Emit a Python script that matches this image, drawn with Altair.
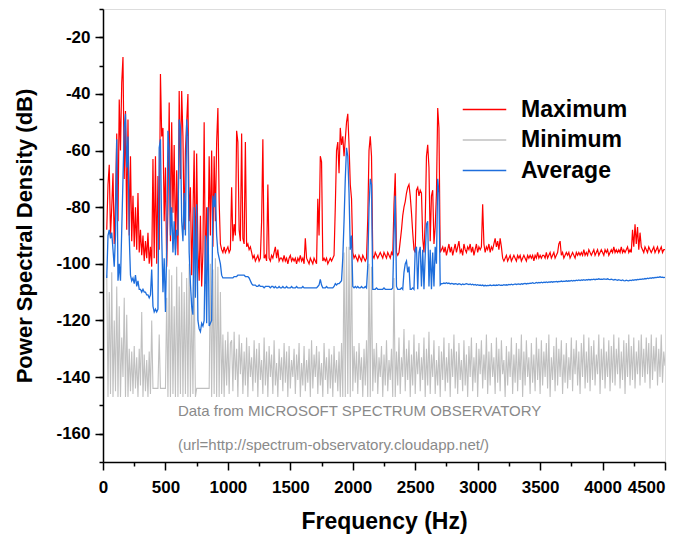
import altair as alt
import pandas as pd

# Frequency grid (Hz), 10 Hz sampling from 30 Hz to 4500 Hz
FREQ_HZ = list(range(30, 4501, 10))

SERIES = ["Maximum", "Minimum", "Average"]
COLORS = ["#ff0000", "#c0c0c0", "#1e6edc"]

# Power spectral density (dB), one row per 100 Hz (30..120, 130..220, ...)
MAX_DB = [
    -88, -72, -65, -90, -80, -68, -93, -78, -54, -85,
    -42, -60, -36, -27, -70, -46, -88, -49, -90, -62,
    -92, -76, -94, -80, -95, -75, -96, -88, -97, -90,
    -99, -92, -98, -89, -100, -94, -101, -63, -98, -62,
    -100, -69, -95, -33, -55, -52, -85, -66, -101, -80,
    -43, -92, -50, -82, -58, -95, -67, -97, -39, -70,
    -39, -55, -88, -60, -50, -40, -85, -73, -104, -83,
    -60, -105, -61, -95, -106, -83, -108, -96, -50, -107,
    -80, -96, -62, -90, -60, -94, -62, -85, -57, -45,
    -78, -93, -95, -96, -94, -96, -95, -94, -96, -95,
    -73, -92, -86, -90, -53, -57, -88, -92, -54, -91,
    -93, -57, -94, -93, -95, -94, -96, -98, -97, -99,
    -98, -97, -99, -98, -85, -56, -98, -97, -99, -72,
    -98, -99, -97, -98, -96, -94, -98, -95, -99, -98,
    -98, -99, -97, -99, -98, -100, -98, -97, -99, -98,
    -99, -98, -100, -98, -99, -97, -99, -98, -100, -91,
    -98, -99, -100, -98, -99, -100, -98, -99, -100, -77,
    -90, -62, -64, -99, -98, -99, -98, -100, -99, -98,
    -99, -98, -97, -80, -60, -57, -68, -52, -58, -55,
    -62, -56, -50, -47, -58, -72, -77, -96, -98, -97,
    -98, -99, -97, -98, -99, -97, -98, -99, -98, -84,
    -60, -55, -62, -97, -98, -96, -97, -98, -97, -96,
    -97, -98, -96, -97, -98, -96, -97, -98, -96, -97,
    -79, -68, -96, -97, -96, -92, -88, -83, -80, -78,
    -75, -73, -72, -76, -82, -89, -95, -96, -74, -73,
    -76, -74, -75, -91, -96, -85, -62, -58, -66, -92,
    -76, -74, -93, -87, -75, -45, -52, -96, -95, -94,
    -96, -94, -97, -95, -93, -96, -94, -97, -95, -93,
    -96, -94, -92, -96, -95, -97, -93, -95, -96, -94,
    -95, -93, -96, -94, -97, -95, -93, -96, -94, -95,
    -94, -79, -93, -96, -94, -95, -93, -96, -94, -95,
    -93, -91, -94, -92, -95, -91, -94, -98, -99, -98,
    -97, -99, -98, -97, -99, -98, -97, -98, -99, -97,
    -98, -97, -99, -98, -97, -98, -99, -97, -98, -97,
    -98, -97, -99, -97, -98, -96, -98, -97, -98, -97,
    -97, -98, -96, -98, -97, -96, -98, -97, -96, -98,
    -97, -96, -93, -92, -97, -96, -98, -97, -96, -97,
    -96, -98, -97, -96, -97, -98, -96, -97, -96, -97,
    -96, -97, -95, -97, -96, -97, -95, -96, -97, -96,
    -95, -97, -96, -95, -97, -96, -95, -96, -97, -95,
    -96, -95, -97, -96, -95, -96, -94, -96, -95, -96,
    -95, -96, -94, -96, -95, -96, -95, -94, -96, -95,
    -96, -88, -94, -86, -93, -87, -95, -89, -94, -95,
    -96, -94, -95, -96, -94, -95, -96, -95, -94, -96,
    -95, -94, -96, -95, -94, -96, -95, -95,
]

MIN_DB = [
    -104, -147, -110, -146, -103, -147, -120, -145, -108, -147,
    -115, -147, -126, -140, -112, -147, -118, -147, -130, -145,
    -131, -146, -129, -144, -133, -147, -130, -143, -117, -147,
    -132, -145, -134, -147, -131, -146, -120, -144, -144, -144,
    -144, -144, -125, -144, -144, -144, -144, -144, -112, -147,
    -102, -147, -104, -146, -115, -147, -101, -147, -108, -146,
    -103, -147, -110, -146, -105, -147, -100, -147, -112, -146,
    -104, -147, -144, -144, -144, -144, -144, -144, -144, -144,
    -144, -144, -144, -100, -147, -102, -146, -98, -147, -101,
    -147, -110, -146, -125, -147, -127, -143, -124, -146, -128,
    -127, -145, -124, -141, -130, -147, -125, -139, -128, -146,
    -131, -143, -126, -147, -129, -140, -133, -145, -127, -142,
    -130, -147, -128, -141, -134, -146, -126, -143, -131, -147,
    -129, -140, -132, -146, -127, -143, -135, -147, -130, -141,
    -133, -145, -128, -142, -131, -147, -129, -144, -134, -140,
    -130, -146, -132, -141, -128, -147, -135, -143, -129, -145,
    -134, -142, -130, -147, -127, -144, -132, -140, -129, -146,
    -131, -143, -135, -147, -128, -141, -133, -146, -130, -144,
    -132, -147, -129, -142, -134, -145, -131, -147, -128, -147,
    -96, -147, -94, -146, -94, -147, -95, -145, -129, -142,
    -131, -146, -128, -141, -133, -147, -130, -143, -127, -147,
    -100, -147, -101, -145, -130, -142, -128, -146, -133, -140,
    -129, -147, -132, -143, -127, -145, -134, -141, -130, -147,
    -105, -147, -131, -143, -126, -146, -133, -140, -123, -145,
    -130, -141, -127, -147, -132, -143, -125, -146, -131, -139,
    -128, -145, -133, -141, -126, -147, -130, -143, -124, -146,
    -132, -140, -127, -146, -134, -143, -129, -147, -131, -141,
    -126, -145, -133, -142, -128, -147, -130, -140, -125, -144,
    -131, -146, -128, -141, -134, -145, -127, -143, -132, -147,
    -129, -140, -126, -145, -133, -142, -128, -147, -130, -139,
    -127, -144, -132, -141, -125, -146, -131, -143, -128, -140,
    -133, -146, -126, -142, -130, -145, -127, -139, -134, -147,
    -129, -143, -131, -140, -126, -146, -132, -142, -128, -145,
    -130, -141, -125, -147, -131, -143, -127, -140, -133, -146,
    -128, -142, -132, -145, -126, -141, -130, -146, -127, -143,
    -131, -140, -128, -144, -125, -147, -133, -141, -129, -145,
    -126, -143, -130, -140, -127, -146, -132, -142, -128, -144,
    -133, -141, -126, -145, -130, -139, -127, -143, -131, -146,
    -128, -140, -125, -144, -131, -142, -126, -145, -129, -141,
    -127, -143, -132, -139, -125, -146, -130, -141, -126, -144,
    -131, -140, -127, -145, -129, -142, -125, -143, -130, -139,
    -126, -144, -131, -141, -127, -146, -128, -140, -125, -143,
    -129, -141, -126, -144, -131, -139, -127, -143, -125, -140,
    -130, -142, -126, -139, -128, -144, -125, -141, -129, -138,
    -126, -143, -130, -140, -125, -142, -131, -136,
]

AVG_DB = [
    -105, -90, -88, -91, -89, -95, -101, -90, -56, -106,
    -100, -106, -88, -70, -52, -47, -66, -55, -90, -104,
    -106, -105, -107, -104, -108, -106, -109, -109, -110, -109,
    -110, -110, -111, -111, -112, -111, -102, -115, -117, -116,
    -117, -116, -59, -56, -90, -110, -98, -117, -95, -53,
    -60, -90, -80, -96, -85, -97, -88, -90, -49, -52,
    -85, -92, -75, -90, -49, -55, -96, -107, -115, -118,
    -80, -112, -79, -120, -123, -124, -121, -122, -120, -90,
    -121, -80, -122, -121, -120, -76, -80, -75, -90, -96,
    -98, -100, -104, -105, -105, -105, -105, -105, -105, -105,
    -105, -105, -104.5, -104.5, -104.5, -104, -104, -104, -104, -104,
    -104, -104.5, -104.5, -104.5, -105, -106, -107, -107.5, -107.5, -107.5,
    -108, -108, -107.5, -108, -108, -108, -108.5, -108, -108, -108,
    -108, -108.5, -108, -108, -108.5, -108, -108.5, -108.5, -108, -108.5,
    -108.5, -108, -108.5, -108.5, -108, -108.5, -108.5, -108.5, -108, -108.5,
    -108.5, -108.5, -108, -108.5, -108.5, -108.5, -108.5, -108, -108.5, -108.5,
    -108.5, -108.5, -108.5, -108.5, -108.5, -108.5, -108.5, -108.5, -108.5, -108,
    -107.5, -105.5, -107.5, -108.5, -108.5, -108.5, -108, -108.5, -108.5, -108.5,
    -108.5, -108.5, -108, -107, -107.5, -107, -107, -106.5, -106, -98,
    -85, -70, -59, -62, -75, -95, -90, -108, -108.5, -108,
    -108.5, -108, -108.5, -108.5, -108, -108.5, -108.5, -108, -108.5, -101,
    -80, -70, -72, -109, -109, -109, -108.5, -109, -109, -109,
    -109, -109, -108.5, -109, -109, -109, -109, -109, -109, -108.5,
    -90, -76, -108, -109, -109, -109, -108.5, -109, -103, -100,
    -99, -103, -101, -109, -109, -108.5, -109, -95, -94, -109,
    -96, -94, -108, -95, -109, -97, -86, -85, -108, -95,
    -109, -96, -108, -94, -100, -70, -75, -107.5, -107, -107,
    -106.8, -107, -106.7, -107, -106.8, -107.1, -106.9, -107, -107.2, -107,
    -107.1, -107.3, -107, -107.2, -107.4, -107.1, -107.3, -107.2, -107, -107.2,
    -107.3, -107.1, -107.4, -107.2, -107.5, -107.3, -107.6, -107.4, -107.6, -107.5,
    -107.7, -107.5, -107.8, -107.6, -107.8, -107.6, -107.7, -107.5, -107.7, -107.6,
    -107.5, -107.7, -107.5, -107.6, -107.4, -107.6, -107.5, -107.6, -107.4, -107.5,
    -107.4, -107.5, -107.3, -107.4, -107.2, -107.4, -107.3, -107.1, -107.3, -107.2,
    -107.1, -107.3, -107, -107.2, -107, -106.9, -107.1, -106.9, -107, -106.8,
    -106.9, -106.7, -106.9, -106.8, -106.6, -106.8, -106.6, -106.7, -106.5, -106.7,
    -106.5, -106.6, -106.4, -106.6, -106.4, -106.5, -106.3, -106.5, -106.3, -106.4,
    -106.2, -106.4, -106.2, -106.3, -106.1, -106.3, -106.1, -106.2, -106, -106.2,
    -106, -106.1, -105.9, -106.1, -105.9, -106, -105.8, -105.9, -105.7, -105.9,
    -105.7, -105.8, -105.6, -105.8, -105.6, -105.7, -105.5, -105.7, -105.5, -105.6,
    -105.4, -105.6, -105.4, -105.5, -105.3, -105.5, -105.4, -105.5, -105.3, -105.4,
    -105.5, -105.3, -105.5, -105.6, -105.4, -105.6, -105.7, -105.5, -105.7, -105.8,
    -105.6, -105.8, -105.9, -105.7, -105.9, -106, -105.8, -105.9, -106, -105.8,
    -105.9, -105.7, -105.8, -105.6, -105.7, -105.5, -105.6, -105.4, -105.5, -105.3,
    -105.4, -105.2, -105.3, -105.1, -105.2, -105, -105.1, -104.9, -105, -104.8,
    -104.9, -104.7, -104.8, -104.6, -104.8, -104.7, -104.9, -104.8,
]

X_TICKS = list(range(0, 4501, 250))
Y_MINOR_TICKS = list(range(-170, -9, 10))
Y_MAJOR_TICKS = list(range(-160, -19, 20))

NOTE_LINES = [
    "Data from MICROSOFT SPECTRUM OBSERVATORY",
    "(url=http://spectrum-observatory.cloudapp.net/)",
]
NOTE_FREQ = [600, 600]
NOTE_DB = [-152, -164]

assert len(MAX_DB) == len(FREQ_HZ), len(MAX_DB)
assert len(MIN_DB) == len(FREQ_HZ), len(MIN_DB)
assert len(AVG_DB) == len(FREQ_HZ), len(AVG_DB)

frames = []
for name, vals in zip(SERIES, [MAX_DB, MIN_DB, AVG_DB]):
    frames.append(pd.DataFrame({"freq": FREQ_HZ, "psd": vals, "series": name}))
df = pd.concat(frames, ignore_index=True)
notes = pd.DataFrame({"freq": NOTE_FREQ, "psd": NOTE_DB, "text": NOTE_LINES})

FONT = "Liberation Sans"

x_axis = alt.Axis(
    values=X_TICKS,
    labelExpr="datum.value % 500 === 0 ? datum.label : ''",
    format="d",
    tickSize={"condition": {"test": "datum.value % 500 === 0", "value": 8}, "value": 4},
    labelAlign={"condition": {"test": "datum.value === 4500", "value": "right"}, "value": "center"},
    tickWidth=1.5, tickColor="black",
    domainColor="black", domainWidth=1.5,
    labelFont=FONT, labelFontSize=17, labelFontWeight="bold", labelColor="black",
    labelPadding=9, labelOverlap=False, labelFlush=False,
    title="Frequency (Hz)", titleFont=FONT, titleFontSize=23, titleFontWeight="bold",
    titleColor="black", titlePadding=15, grid=False,
)
y_major_axis = alt.Axis(
    orient="left",
    values=Y_MAJOR_TICKS, format="d",
    tickSize=8, tickWidth=1.5, tickColor="black",
    domainColor="black", domainWidth=1.5,
    labelFont=FONT, labelFontSize=17, labelFontWeight="bold", labelColor="black",
    labelPadding=5, labelOverlap=False, labelFlush=False,
    title="Power Spectral Density (dB)", titleFont=FONT, titleFontSize=22,
    titleFontWeight="bold", titleColor="black", titlePadding=19, grid=False,
)
y_minor_axis = alt.Axis(
    orient="left",
    values=Y_MINOR_TICKS, labels=False, title=None,
    tickSize=4, tickWidth=1.5, tickColor="black",
    domain=False, grid=False,
)

x_enc = alt.X("freq:Q", scale=alt.Scale(domain=[0, 4500], nice=False), axis=x_axis)
y_scale = alt.Scale(domain=[-170, -10], nice=False)
color_enc = alt.Color(
    "series:N",
    scale=alt.Scale(domain=SERIES, range=COLORS),
    legend=alt.Legend(
        orient="none", legendX=366, legendY=85, title=None, padding=0,
        symbolType="M-1.5,0H1.5", symbolSize=841, symbolStrokeWidth=1.5,
        labelFont=FONT, labelFontSize=23, labelFontWeight="bold", labelColor="black",
        labelOffset=21, rowPadding=2.5,
    ),
)

y_axes = [y_major_axis, y_minor_axis, None]
base = alt.Chart(df)
layers = []
for name, w, yax in zip(SERIES, [1.2, 1.1, 1.3], y_axes):
    layers.append(
        base.transform_filter(alt.datum.series == name)
        .mark_line(strokeWidth=w, clip=True)
        .encode(
            x=x_enc,
            y=alt.Y("psd:Q", scale=y_scale, axis=yax),
            color=color_enc,
            order="freq:Q",
        )
    )

note_layer = alt.Chart(notes).mark_text(
    align="left", baseline="middle", font=FONT, fontSize=15, color="#8a8a8a"
).encode(
    x=x_enc,
    y=alt.Y("psd:Q", scale=y_scale, axis=None),
    text="text:N",
)

chart = alt.layer(*layers, note_layer).resolve_axis(y="independent").properties(
    width=562, height=453,
    autosize=alt.AutoSizeParams(type="none"),
    padding={"left": 95, "top": 1, "right": 15, "bottom": 74},
).configure_view(stroke=None).configure(
    background="white",
    locale={"number": {"decimal": ".", "thousands": ",", "grouping": [3],
                       "currency": ["$", ""], "minus": "-"}},
)

chart.save("out.html", embed_options={"renderer": "svg", "actions": False})
